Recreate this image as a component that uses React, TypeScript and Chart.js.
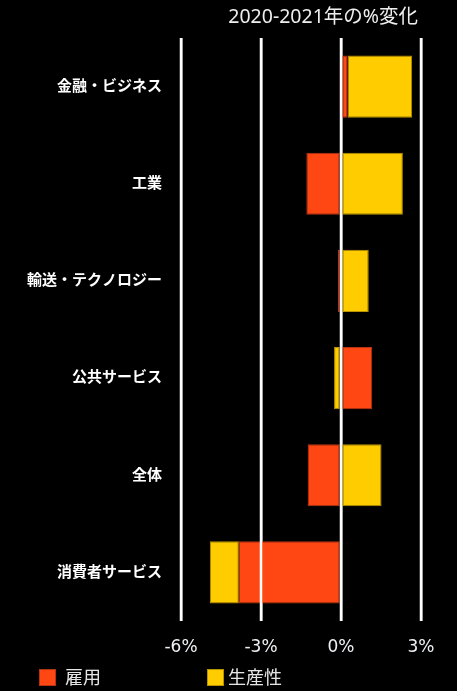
import React, { useEffect, useRef } from "react";
import { Chart, registerables } from "chart.js";

Chart.register(...registerables);

const categories = ["金融・ビジネス", "工業", "輸送・テクノロジー", "公共サービス", "全体", "消費者サービス"];
const employment = [0.25, -1.3, -0.12, 1.17, -1.25, -3.83];
const productivity = [2.42, 2.32, 1.04, -0.26, 1.52, -1.09];
const seriesNames = ["雇用", "生産性"];
const seriesColors = ["#FF4713", "#FFCC00"];
const seriesBorders = ["#B83410", "#B89300"];
const tickValues = [-6, -3, 0, 3];
const titleText = "2020-2021年の%変化";

const FONT = "'Noto Sans', 'Noto Sans CJK JP', sans-serif";

const overlayPlugin = {
  id: "overlay",
  afterDatasetsDraw(chart: any) {
    const ctx = chart.ctx;
    const x = chart.scales.x;
    const area = chart.chartArea;
    ctx.save();
    ctx.strokeStyle = "#ffffff";
    ctx.lineWidth = 2.5;
    tickValues.forEach((v) => {
      const px = x.getPixelForValue(v);
      ctx.beginPath();
      ctx.moveTo(px, area.top);
      ctx.lineTo(px, area.bottom);
      ctx.stroke();
    });
    ctx.restore();
  },
  afterDraw(chart: any) {
    const ctx = chart.ctx;
    const x = chart.scales.x;
    ctx.save();
    // title
    ctx.fillStyle = "#eeeeee";
    ctx.font = `19.5px ${FONT}`;
    ctx.textAlign = "right";
    ctx.textBaseline = "middle";
    ctx.fillText(titleText, x.getPixelForValue(3) - 3, 17);
    // legend
    const items = [
      { sx: 39, tx: 65 },
      { sx: 207, tx: 228 },
    ];
    ctx.font = `18px ${FONT}`;
    ctx.textAlign = "left";
    items.forEach((it, i) => {
      ctx.fillStyle = seriesColors[i];
      ctx.fillRect(it.sx, 669, 17, 17);
      ctx.strokeStyle = seriesBorders[i];
      ctx.lineWidth = 1;
      ctx.strokeRect(it.sx + 0.5, 669.5, 16, 16);
      ctx.fillStyle = "#e6e6e6";
      ctx.fillText(seriesNames[i], it.tx, 679);
    });
    ctx.restore();
  },
};

export default function App() {
  const ref = useRef<HTMLCanvasElement | null>(null);
  useEffect(() => {
    if (!ref.current) return;
    const chart = new Chart(ref.current, {
      type: "bar",
      data: {
        labels: categories,
        datasets: [
          {
            label: seriesNames[0],
            data: employment,
            backgroundColor: seriesColors[0],
            borderColor: seriesBorders[0],
            borderWidth: 1,
            borderSkipped: false,
          },
          {
            label: seriesNames[1],
            data: productivity,
            backgroundColor: seriesColors[1],
            borderColor: seriesBorders[1],
            borderWidth: 1,
            borderSkipped: false,
          },
        ],
      },
      options: {
        indexAxis: "y",
        animation: false,
        responsive: false,
        maintainAspectRatio: false,
        datasets: { bar: { categoryPercentage: 0.8, barPercentage: 0.8 } },
        layout: { padding: { top: 38, right: 36, left: 0, bottom: 0 } },
        plugins: { legend: { display: false }, tooltip: { enabled: false }, title: { display: false } },
        scales: {
          x: {
            stacked: true,
            min: -6,
            max: 3,
            afterBuildTicks: (axis: any) => {
              axis.ticks = tickValues.map((v) => ({ value: v }));
            },
            afterFit: (axis: any) => {
              axis.height = 70;
            },
            grid: { color: "#ffffff", lineWidth: 2.5, drawTicks: false },
            border: { display: false },
            ticks: {
              color: "#eef2f6",
              padding: 16,
              font: { family: "'DejaVu Sans', sans-serif", size: 17 },
              callback: (v: any) => `${v}%`,
            },
          },
          y: {
            stacked: true,
            afterFit: (axis: any) => {
              axis.width = 181;
            },
            grid: { display: false, drawTicks: false },
            border: { display: false },
            ticks: {
              color: "#ffffff",
              padding: 19,
              font: { family: FONT, size: 15, weight: "bold" },
            },
          },
        },
      },
      plugins: [overlayPlugin],
    } as any);
    return () => chart.destroy();
  }, []);
  return (
    <div style={{ position: "absolute", left: 0, top: 0, width: 457, height: 691, background: "#000" }}>
      <canvas ref={ref} width={457} height={691} style={{ display: "block" }} />
    </div>
  );
}
